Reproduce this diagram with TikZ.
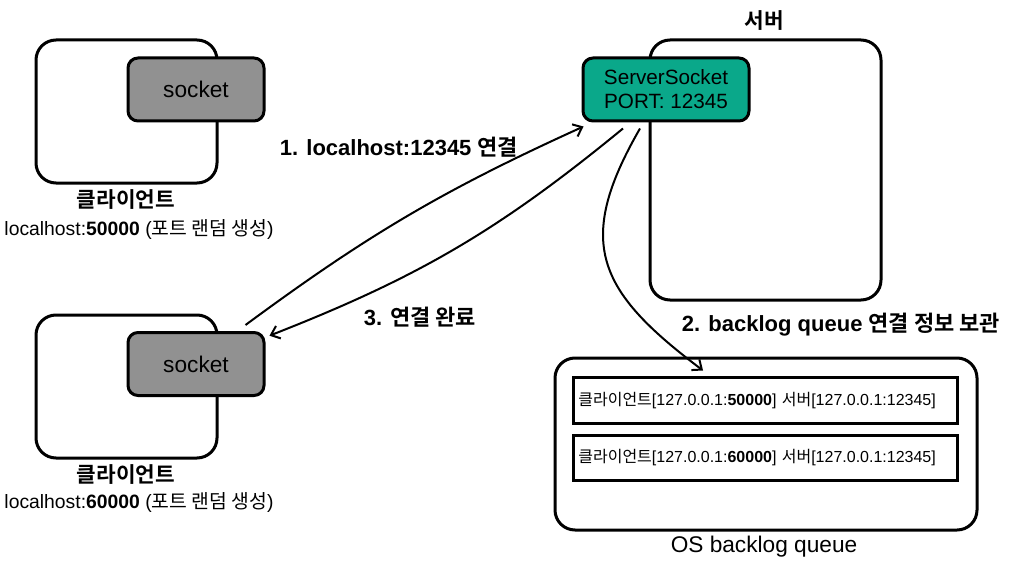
\documentclass[tikz,border=0pt]{standalone}
\usepackage{fontspec}
\setmainfont{Liberation Sans}
\newfontfamily\kr{Noto Sans CJK KR}[Scale=1.0,BoldFont={Noto Sans CJK KR Bold}]
\usetikzlibrary{arrows.meta}
\definecolor{socketgray}{RGB}{145,145,145}
\definecolor{serverteal}{RGB}{10,168,138}

\begin{document}
\begin{tikzpicture}[x=0.75pt,y=-0.75pt]
    \tikzstyle{host}        = [draw,line width=2.25pt,rounded corners=15pt,minimum width=135.75pt,minimum height=107.25pt]
    \tikzstyle{socket}      = [draw,line width=2.25pt,rounded corners=7.5pt,fill=socketgray,minimum width=102pt,minimum height=47.25pt,font=\fontsize{17}{20}\selectfont]
    \tikzstyle{server}      = [draw,line width=2.25pt,rounded corners=15pt,minimum width=173.25pt,minimum height=195pt]
    \tikzstyle{server sock} = [socket,fill=serverteal,minimum width=124.5pt,align=center,font=\fontsize{15.5}{18}\selectfont]
    \tikzstyle{queue}       = [draw,line width=2.25pt,rounded corners=15pt,minimum width=316.5pt,minimum height=129pt]
    \tikzstyle{entry}       = [draw,line width=2.25pt,minimum height=34pt,text width=280pt,inner xsep=4pt,align=left,font=\fontsize{12}{14}\selectfont]
    \tikzstyle{name label}  = [font=\bfseries\fontsize{16}{19}\selectfont]
    \tikzstyle{addr label}  = [font=\fontsize{14.5}{17}\selectfont]
    \tikzstyle{step label}  = [font=\bfseries\fontsize{16.5}{19}\selectfont]
    \tikzstyle{conn}        = [line width=1.5pt,-{Straight Barb[length=6pt,width=10pt]}]

    \useasboundingbox (0,0) rectangle (1012,574);

    % clients
    \node[host]   (c1) at (126.5,111.5) {};
    \node[socket] (s1) at (196,89.5)    {socket};
    \node[name label] (c1name) at (126,200) {{\kr 클라이언트}};
    \node[addr label] (c1addr) at (139,230) {localhost:\textbf{50000} ({\kr 포트 랜덤 생성})};

    \node[host]   (c2) at (126.5,386.5) {};
    \node[socket] (s2) at (196,364)     {socket};
    \node[name label] (c2name) at (126,475) {{\kr 클라이언트}};
    \node[addr label] (c2addr) at (139,503) {localhost:\textbf{60000} ({\kr 포트 랜덤 생성})};

    % server
    \node[server]      (srv)   at (765.5,170) {};
    \node[server sock] (ssock) at (666,89.5)  {ServerSocket\\PORT: 12345};
    \node[name label]  (srvname) at (764,21)  {{\kr 서버}};

    % backlog queue
    \node[queue] (q) at (766,444) {};
    \node[entry] (e1) at (765,400.5) {{\kr 클라이언트}[127.0.0.1:\textbf{50000}] {\kr 서버}[127.0.0.1:12345]};
    \node[entry] (e2) at (765,458)   {{\kr 클라이언트}[127.0.0.1:\textbf{60000}] {\kr 서버}[127.0.0.1:12345]};
    \node[font=\fontsize{17}{20}\selectfont] (qname) at (764,547) {OS backlog queue};

    % steps
    \draw[conn] ([xshift=-15pt,yshift=4.5pt]s2.north east) to[bend left=6]
        ([xshift=1.5pt,yshift=-3pt]ssock.south west);
    \draw[conn] ([xshift=-19.5pt,yshift=-4.5pt]ssock.south) to[out=-120,in=143,looseness=1.35]
        ([xshift=-47.25pt,yshift=-10.5pt]q.north);
    \draw[conn] ([xshift=-32.25pt,yshift=-4.5pt]ssock.south) to[bend left=9]
        ([xshift=3pt,yshift=-3.5pt]s2.north east);

    \node[step label] (step1) at (399,147) {1. localhost:12345 {\kr 연결}};
    \node[step label] (step2) at (841,325) {2. backlog queue {\kr 연결 정보 보관}};
    \node[step label] (step3) at (420,317) {3. {\kr 연결 완료}};
\end{tikzpicture}
\end{document}
